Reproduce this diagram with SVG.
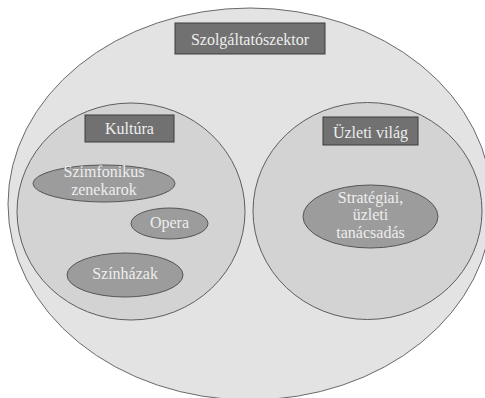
<svg xmlns="http://www.w3.org/2000/svg" width="485" height="398" viewBox="0 0 485 398">
<style>
.bg{fill:#ffffff}
.outer{fill:#e3e3e3;stroke:#6a6a6a;stroke-width:1}
.circ{fill:#d3d3d3;stroke:#5e5e5e;stroke-width:1}
.ell{fill:#9c9c9c;stroke:#555555;stroke-width:1}
.box{fill:#717171;stroke:#3c3c3c;stroke-width:1}
</style>
<rect class="bg" x="0" y="0" width="485" height="398"/>
<g id="szolgaltatoszektor">
<ellipse class="outer" cx="250" cy="204" rx="242" ry="196"/>
<rect class="box" x="175" y="23" width="150" height="31"/>
<text x="250" y="45" font-family="Liberation Serif" font-size="16" fill="#eeeeee" text-anchor="middle">Szolgáltatószektor</text>
</g>
<g id="kultura">
<ellipse class="circ" cx="131" cy="211.5" rx="114" ry="108.5"/>
<rect class="box" x="85" y="115" width="89" height="27"/>
<text x="129.5" y="134" font-family="Liberation Serif" font-size="16" fill="#eeeeee" text-anchor="middle">Kultúra</text>
</g>
<g id="uzleti-vilag">
<ellipse class="circ" cx="367.5" cy="211" rx="114.5" ry="108.5"/>
<rect class="box" x="323" y="117" width="95" height="28"/>
<text x="370.5" y="138" font-family="Liberation Serif" font-size="16" fill="#eeeeee" text-anchor="middle">Üzleti világ</text>
</g>
<g id="szimfonikus">
<ellipse class="ell" cx="104" cy="183.5" rx="71" ry="18.5"/>
<text x="104" y="177" font-family="Liberation Serif" font-size="16" fill="#eeeeee" text-anchor="middle">Szimfonikus</text>
<text x="104" y="195" font-family="Liberation Serif" font-size="16" fill="#eeeeee" text-anchor="middle">zenekarok</text>
</g>
<g id="opera">
<ellipse class="ell" cx="169.5" cy="223.5" rx="38.5" ry="15.5"/>
<text x="169.5" y="228" font-family="Liberation Serif" font-size="16" fill="#eeeeee" text-anchor="middle">Opera</text>
</g>
<g id="szinhazak">
<ellipse class="ell" cx="125" cy="275" rx="58" ry="22"/>
<text x="125" y="279" font-family="Liberation Serif" font-size="16" fill="#eeeeee" text-anchor="middle">Színházak</text>
</g>
<g id="strategiai">
<ellipse class="ell" cx="370.5" cy="216.5" rx="67.5" ry="31.5"/>
<text x="370.5" y="203" font-family="Liberation Serif" font-size="16" fill="#eeeeee" text-anchor="middle">Stratégiai,</text>
<text x="370.5" y="220" font-family="Liberation Serif" font-size="16" fill="#eeeeee" text-anchor="middle">üzleti</text>
<text x="370.5" y="238" font-family="Liberation Serif" font-size="16" fill="#eeeeee" text-anchor="middle">tanácsadás</text>
</g>
<g id="connectors"/>
</svg>
